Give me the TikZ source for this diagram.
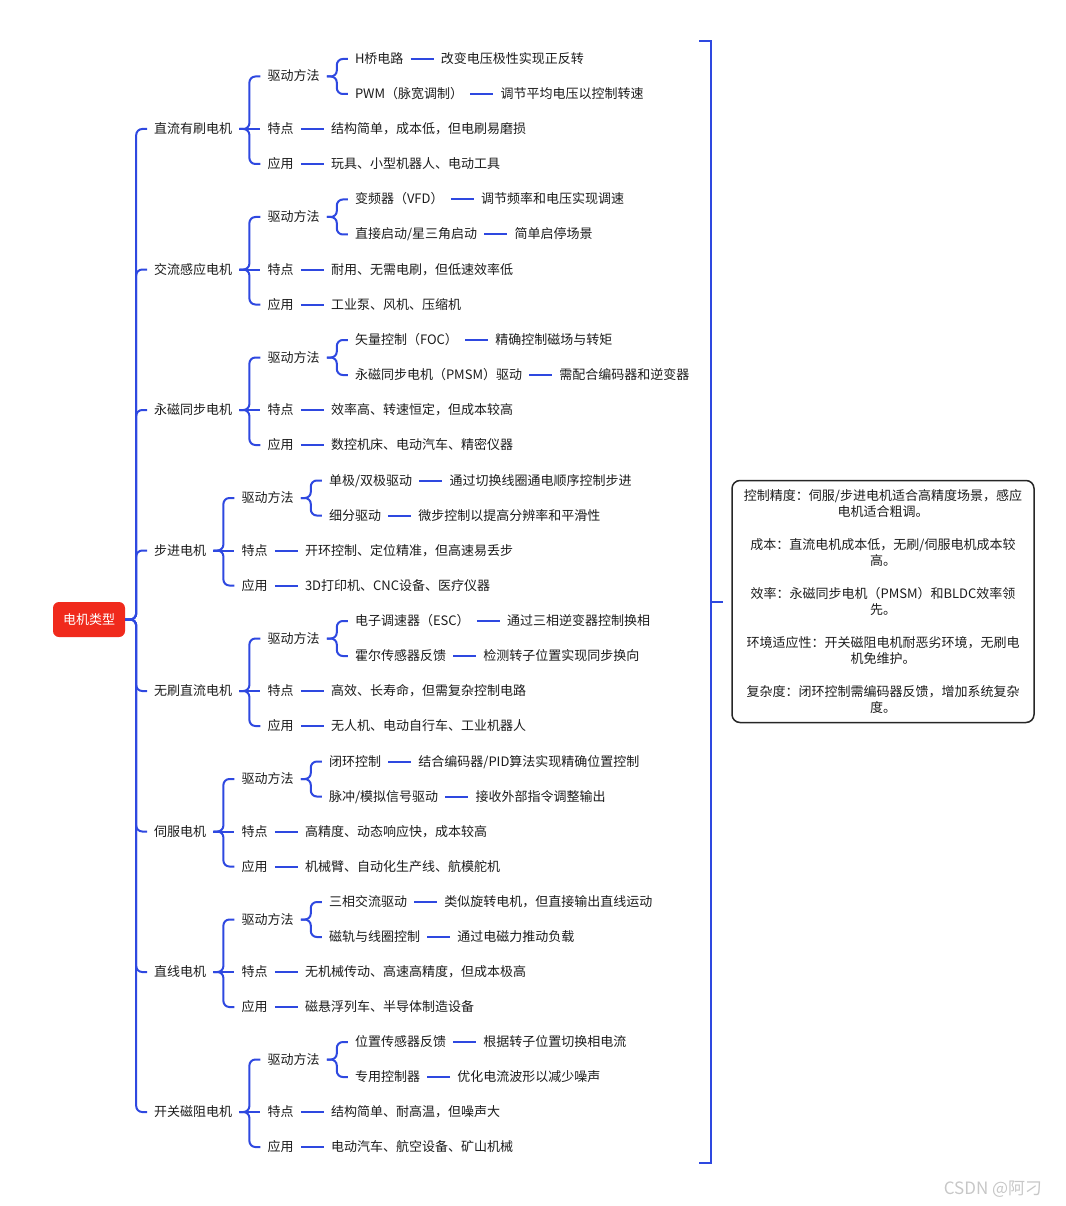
\documentclass[tikz,border=0pt]{standalone}
\usepackage{fontspec}
\setmainfont{Noto Sans CJK SC}
\usetikzlibrary{positioning}
\definecolor{linkblue}{RGB}{46,72,224}
\definecolor{rootred}{RGB}{240,42,28}
\definecolor{ink}{RGB}{28,28,28}

% one motor: id, y, name, drive 1, result 1, drive 2, result 2, feature, use
\newcommand{\motorblock}[9]{%
    \node[lbl, anchor=west] (#1) at (147,#2) {#3};
    \node[lbl, right=21pt of #1, yshift=52.5pt] (#1-drv) {驱动方法};
    \node[lbl, right=21pt of #1] (#1-feat) {特点};
    \node[lbl, right=21pt of #1, yshift=-35pt] (#1-app) {应用};
    \node[lbl, right=21pt of #1-drv, yshift=17.5pt] (#1-d1) {#4};
    \node[lbl, right=21pt of #1-drv, yshift=-17.5pt] (#1-d2) {#6};
    \node[lbl, right=23pt of #1-d1] (#1-r1) {#5};
    \node[lbl, right=23pt of #1-d2] (#1-r2) {#7};
    \node[lbl, right=23pt of #1-feat] (#1-rf) {#8};
    \node[lbl, right=23pt of #1-app] (#1-ra) {#9};
    \draw[link] (root.east) -- ++(11,0) |- (#1.west);
    \foreach \kid in {drv,app} {
        \draw[link] (#1.east) -- ++(10,0) |- (#1-\kid.west);
    }
    \draw[link] (#1.east) -- (#1-feat.west);
    \foreach \kid in {d1,d2} {
        \draw[link] (#1-drv.east) -- ++(10,0) |- (#1-\kid.west);
    }
    \draw[link] (#1-d1.east) -- (#1-r1.west);
    \draw[link] (#1-d2.east) -- (#1-r2.west);
    \draw[link] (#1-feat.east) -- (#1-rf.west);
    \draw[link] (#1-app.east) -- (#1-ra.west);
}

\begin{document}
\begin{tikzpicture}[x=1pt, y=-1pt,
    font=\fontsize{13pt}{16pt}\selectfont,
    lbl/.style={text=ink, inner xsep=7pt, inner ysep=0pt, text height=11pt, text depth=2pt},
    link/.style={draw=linkblue, line width=2pt, rounded corners=6pt},
    rootbox/.style={fill=rootred, text=white, rounded corners=6pt, minimum width=72pt, minimum height=35pt},
    summary/.style={draw=black!85, line width=1.5pt, rounded corners=8pt, align=center,
        minimum width=302pt, minimum height=242pt, text=ink,
        font=\fontsize{13pt}{16.5pt}\selectfont}]
    \useasboundingbox (0,0) rectangle (1065,1206);

    % Root
    \node[rootbox] (root) at (89,619.5) {电机类型};

    % Motors
    \motorblock{dc}{129}{直流有刷电机}{H桥电路}{改变电压极性实现正反转}{PWM（脉宽调制）}{调节平均电压以控制转速}{结构简单，成本低，但电刷易磨损}{玩具、小型机器人、电动工具}
    \motorblock{ac}{269.5}{交流感应电机}{变频器（VFD）}{调节频率和电压实现调速}{直接启动/星三角启动}{简单启停场景}{耐用、无需电刷，但低速效率低}{工业泵、风机、压缩机}
    \motorblock{pm}{410}{永磁同步电机}{矢量控制（FOC）}{精确控制磁场与转矩}{永磁同步电机（PMSM）驱动}{需配合编码器和逆变器}{效率高、转速恒定，但成本较高}{数控机床、电动汽车、精密仪器}
    \motorblock{stp}{550.5}{步进电机}{单极/双极驱动}{通过切换线圈通电顺序控制步进}{细分驱动}{微步控制以提高分辨率和平滑性}{开环控制、定位精准，但高速易丢步}{3D打印机、CNC设备、医疗仪器}
    \motorblock{bl}{691}{无刷直流电机}{电子调速器（ESC）}{通过三相逆变器控制换相}{霍尔传感器反馈}{检测转子位置实现同步换向}{高效、长寿命，但需复杂控制电路}{无人机、电动自行车、工业机器人}
    \motorblock{sv}{831.5}{伺服电机}{闭环控制}{结合编码器/PID算法实现精确位置控制}{脉冲/模拟信号驱动}{接收外部指令调整输出}{高精度、动态响应快，成本较高}{机械臂、自动化生产线、航模舵机}
    \motorblock{ln}{972}{直线电机}{三相交流驱动}{类似旋转电机，但直接输出直线运动}{磁轨与线圈控制}{通过电磁力推动负载}{无机械传动、高速高精度，但成本极高}{磁悬浮列车、半导体制造设备}
    \motorblock{sr}{1112}{开关磁阻电机}{位置传感器反馈}{根据转子位置切换相电流}{专用控制器}{优化电流波形以减少噪声}{结构简单、耐高温，但噪声大}{电动汽车、航空设备、矿山机械}

    % Summary bracket
    \coordinate (btop) at (699,41);
    \coordinate (bbot) at (699,1163);
    \coordinate (bmid) at (711,602);
    \coordinate (bend) at (723,602);
    \draw[link, rounded corners=0pt] (btop) -| (bmid) |- (bbot);
    \draw[link, rounded corners=0pt] (bmid) -- (bend);

    % Summary
    \node[summary] (sum) at (883,601.5) {%
        控制精度：伺服/步进电机适合高精度场景，感应\\电机适合粗调。\\[16pt]
        成本：直流电机成本低，无刷/伺服电机成本较\\高。\\[16pt]
        效率：永磁同步电机（PMSM）和BLDC效率领\\先。\\[16pt]
        环境适应性：开关磁阻电机耐恶劣环境，无刷电\\机免维护。\\[16pt]
        复杂度：闭环控制需编码器反馈，增加系统复杂\\度。};

    % Watermark
    \node[text=black!22, font=\fontsize{17pt}{20pt}\selectfont] (mark) at (993,1189) {CSDN @阿刁};
\end{tikzpicture}
\end{document}
